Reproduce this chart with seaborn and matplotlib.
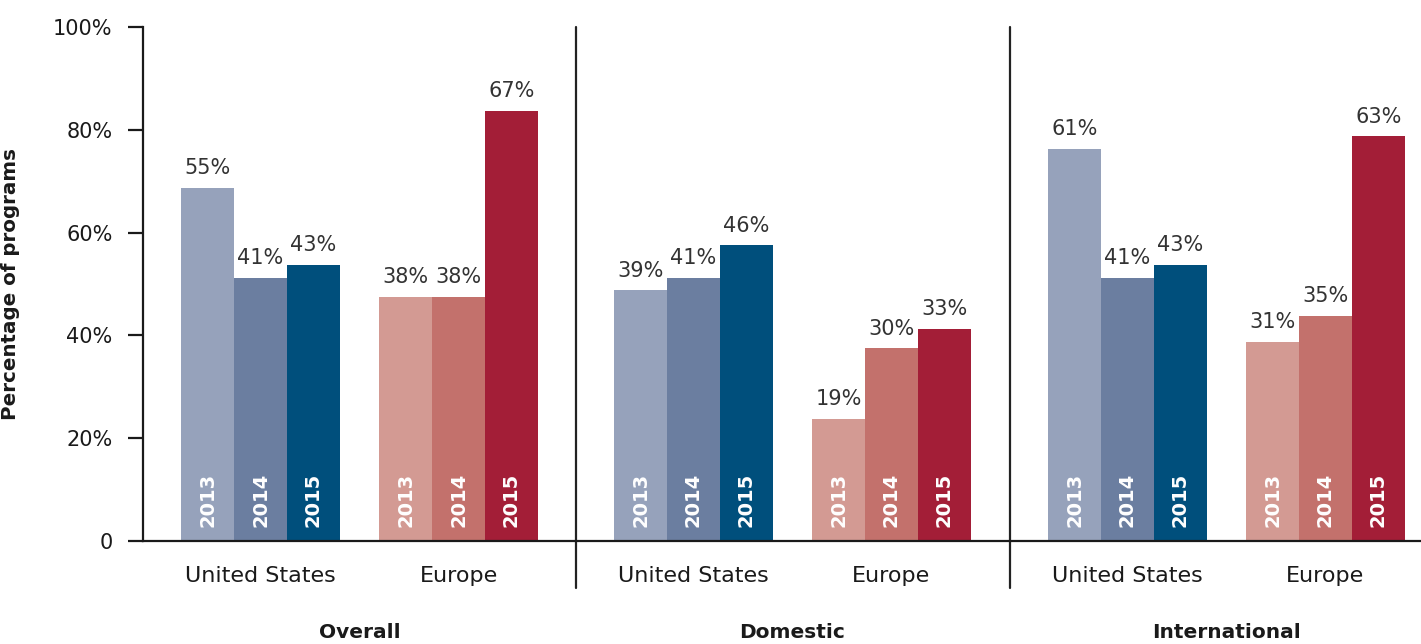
import matplotlib
matplotlib.use("Agg")
import matplotlib.pyplot as plt
import seaborn as sns
import pandas as pd

sections = ["Overall", "Domestic", "International"]
regions = ["United States", "Europe"]
years = ["2013", "2014", "2015"]
us_values = {"Overall": [55, 41, 43], "Domestic": [39, 41, 46], "International": [61, 41, 43]}
eu_values = {"Overall": [38, 38, 67], "Domestic": [19, 30, 33], "International": [31, 35, 63]}
us_colors = ["#96a2bb", "#6b7ea0", "#004f7c"]
eu_colors = ["#d39a93", "#c3716c", "#a31e37"]
ytick_vals = [0, 16, 32, 48, 64, 80]
ytick_labels = ["0", "20%", "40%", "60%", "80%", "100%"]

sns.set_theme(style="white")
plt.rcParams["font.family"] = ["DejaVu Sans"]

W, H = 1421, 644
fig = plt.figure(figsize=(W / 100, H / 100), dpi=100)
bounds = [(143, 433), (576, 434), (1010, 411)]
x_left = -117.5 / 198

ink = "#1a1a1a"
for i, (sec, (lx, wpx)) in enumerate(zip(sections, bounds)):
    ax = fig.add_axes([lx / W, (H - 541) / H, wpx / W, 514 / H])
    rows = []
    for r, vals in (("United States", us_values[sec]), ("Europe", eu_values[sec])):
        for y, v in zip(years, vals):
            rows.append({"region": r, "year": y, "value": v})
    df = pd.DataFrame(rows)
    sns.barplot(data=df[df.region == "United States"], x="region", y="value", hue="year",
                order=regions, hue_order=years, palette=us_colors, width=0.8,
                saturation=1, legend=False, ax=ax, errorbar=None, linewidth=0)
    sns.barplot(data=df[df.region == "Europe"], x="region", y="value", hue="year",
                order=regions, hue_order=years, palette=eu_colors, width=0.8,
                saturation=1, legend=False, ax=ax, errorbar=None, linewidth=0)
    for k, cont in enumerate(ax.containers):
        ax.bar_label(cont, labels=[f"{v:g}%" if v == v else "" for v in cont.datavalues],
                     padding=7, fontsize=15, color="#333333")
        for p in cont.patches:
            if p.get_height() > 0:
                ax.annotate(years[k % 3], xy=(p.get_x() + p.get_width() / 2, 0),
                            xytext=(0, 10), textcoords="offset points",
                            rotation=90, ha="center", va="bottom",
                            fontsize=14, fontweight="bold", color="white")
    ax.set_ylim(0, 80)
    x_right = (wpx - 117.5) / 198
    ax.set_xlim(x_left, x_right)
    ax.set_xlabel("")
    ax.set_ylabel("")
    ax.set_xticks([0, 1])
    ax.set_xticklabels(regions, fontsize=16, color=ink)
    ax.tick_params(axis="x", length=0, pad=18)
    for s in ["top", "right"]:
        ax.spines[s].set_visible(False)
    ax.spines["bottom"].set_color(ink)
    ax.spines["bottom"].set_linewidth(1.6)
    if i == 0:
        ax.spines["left"].set_color(ink)
        ax.spines["left"].set_linewidth(1.6)
        ax.set_yticks(ytick_vals)
        ax.set_yticklabels(ytick_labels, fontsize=15, color=ink)
        ax.tick_params(axis="y", left=True, length=11, width=1.6, color=ink, pad=11)
        ax.set_ylabel("Percentage of programs", fontsize=14.3, fontweight="bold", color=ink)
        ax.yaxis.set_label_coords(-123 / wpx, 0.5)
    else:
        ax.spines["left"].set_visible(False)
        ax.set_yticks([])
        ax.axvline(x_left, ymin=-47 / 514, ymax=1, color="#222222", lw=1.6, clip_on=False)
    ax.text(0.5, -91 / 514, sec, transform=ax.get_xaxis_transform(), ha="center",
            va="center", fontsize=14.5, fontweight="bold", color=ink)

fig.savefig("out.png", dpi=100)
